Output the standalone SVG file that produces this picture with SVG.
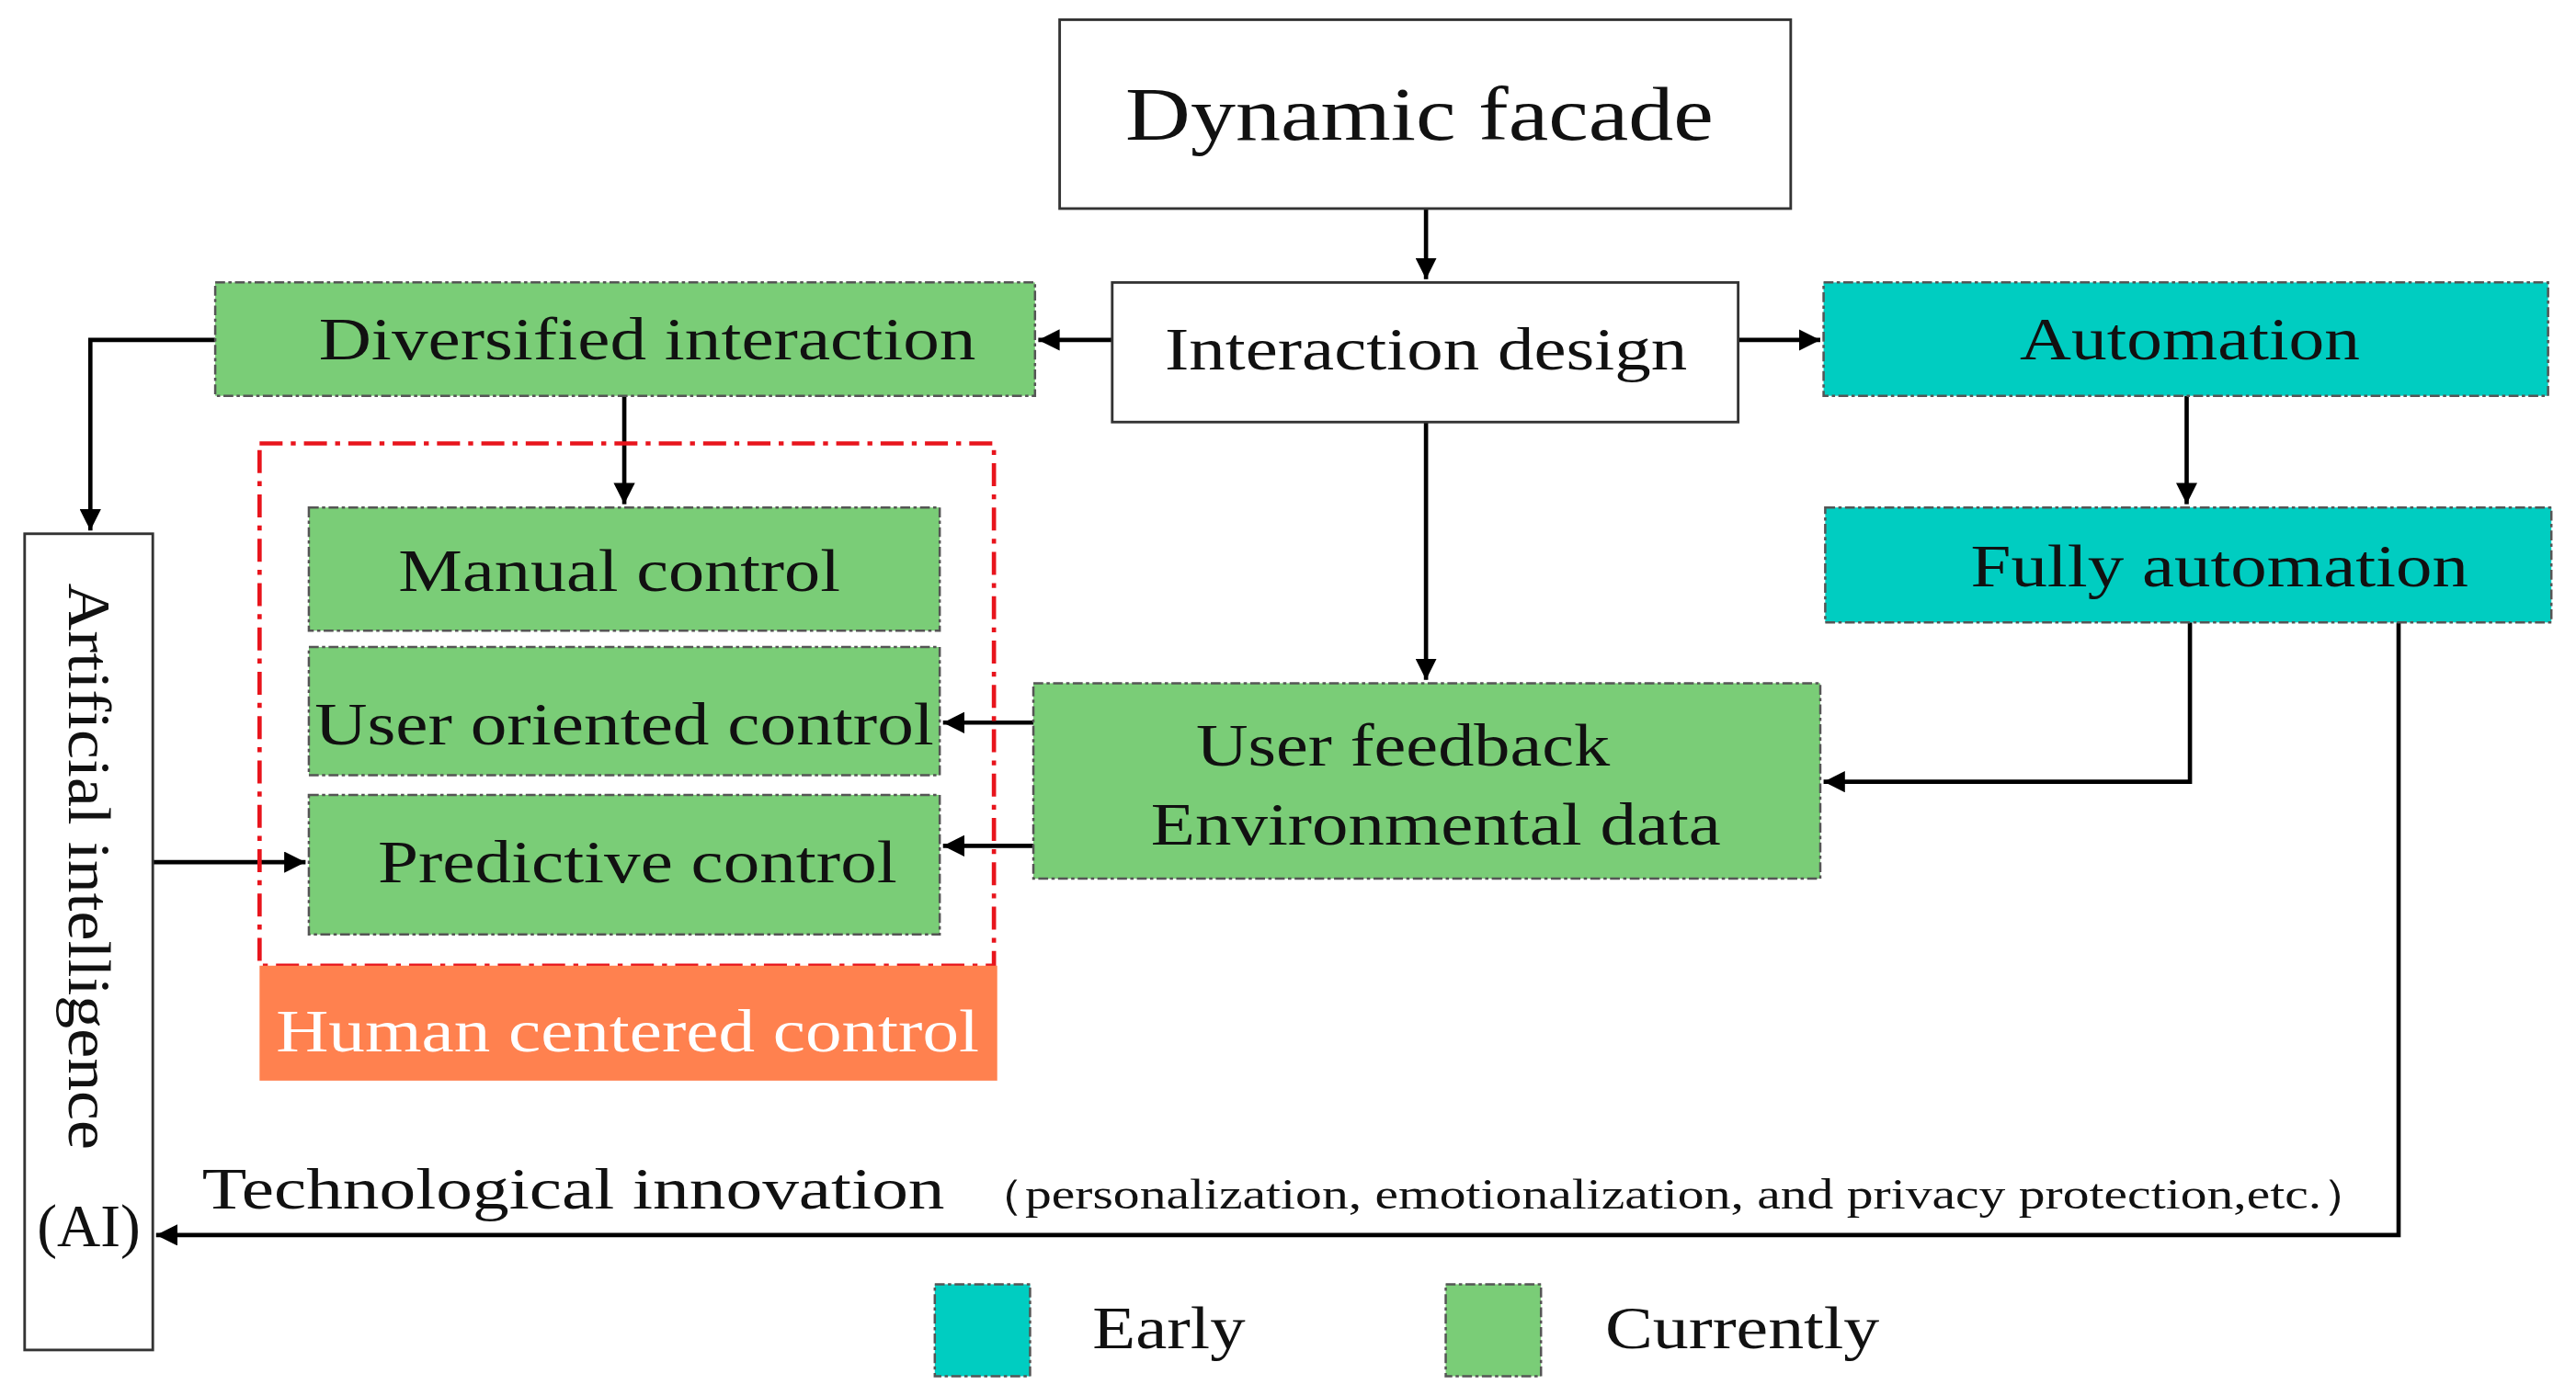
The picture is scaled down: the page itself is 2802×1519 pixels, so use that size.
<svg xmlns="http://www.w3.org/2000/svg" width="2802" height="1519" viewBox="0 0 2802 1519">
<style>
text{font-family:"Liberation Serif","Times New Roman",serif;fill:#111}
.w{fill:#fff;stroke:#333;stroke-width:1.6}
.g{fill:#7acd77;stroke:#555;stroke-width:1.4;stroke-dasharray:6 2 2 2}
.t{fill:#00cdc1;stroke:#555;stroke-width:1.4;stroke-dasharray:6 2 2 2}
.c{fill:none;stroke:#000;stroke-width:2.6}
</style>
<defs><marker id="a" viewBox="0 0 10 10" refX="10" refY="5" markerWidth="5" markerHeight="5" orient="auto" markerUnits="strokeWidth"><path d="M0,0L10,5L0,10z" fill="#000"/></marker></defs>
<rect width="2802" height="1519" fill="#fff"/>
<g transform="scale(1.787)">
<g id="connectors">
<path class="c" d="M868,127V170" marker-end="url(#a)"/>
<path class="c" d="M677,207H632" marker-end="url(#a)"/>
<path class="c" d="M1058,207H1108" marker-end="url(#a)"/>
<path class="c" d="M868,257V414" marker-end="url(#a)"/>
<path class="c" d="M131,207H55V323" marker-end="url(#a)"/>
<path class="c" d="M380,241V307" marker-end="url(#a)"/>
<path class="c" d="M1331,241V307" marker-end="url(#a)"/>
<path class="c" d="M1333,379V476H1110" marker-end="url(#a)"/>
<path class="c" d="M1460,379V752H95" marker-end="url(#a)"/>
<path class="c" d="M629,440H574" marker-end="url(#a)"/>
<path class="c" d="M629,515H574" marker-end="url(#a)"/>
<path class="c" d="M93,525H186" marker-end="url(#a)"/>
</g>
<g id="dynamic"><rect class="w" x="645" y="12" width="445" height="115"/><text x="864" y="85" font-size="46" text-anchor="middle" textLength="358" lengthAdjust="spacingAndGlyphs">Dynamic facade</text></g>
<g id="interaction"><rect class="w" x="677" y="172" width="381" height="85"/><text x="868" y="225" font-size="37" text-anchor="middle" textLength="318" lengthAdjust="spacingAndGlyphs">Interaction design</text></g>
<g id="diversified"><rect class="g" x="131" y="172" width="499" height="69"/><text x="394" y="219" font-size="37" text-anchor="middle" textLength="400" lengthAdjust="spacingAndGlyphs">Diversified interaction</text></g>
<g id="automation"><rect class="t" x="1110" y="172" width="441" height="69"/><text x="1333" y="219" font-size="37" text-anchor="middle" textLength="207" lengthAdjust="spacingAndGlyphs">Automation</text></g>
<g id="fully"><rect class="t" x="1111" y="309" width="442" height="70"/><text x="1351" y="357" font-size="37" text-anchor="middle" textLength="303" lengthAdjust="spacingAndGlyphs">Fully automation</text></g>
<g id="human-group"><rect x="158" y="270" width="447" height="318" fill="none" stroke="#e8141c" stroke-width="2.6" stroke-dasharray="14 5 3 5"/></g>
<g id="manual"><rect class="g" x="188" y="309" width="384" height="75"/><text x="377" y="360" font-size="37" text-anchor="middle" textLength="269" lengthAdjust="spacingAndGlyphs">Manual control</text></g>
<g id="useroriented"><rect class="g" x="188" y="394" width="384" height="78"/><text x="380" y="453" font-size="37" text-anchor="middle" textLength="377" lengthAdjust="spacingAndGlyphs">User oriented control</text></g>
<g id="predictive"><rect class="g" x="188" y="484" width="384" height="85"/><text x="388" y="537" font-size="37" text-anchor="middle" textLength="316" lengthAdjust="spacingAndGlyphs">Predictive control</text></g>
<g id="feedback"><rect class="g" x="629" y="416" width="479" height="119"/><text x="854" y="466" font-size="37" text-anchor="middle" textLength="252" lengthAdjust="spacingAndGlyphs">User feedback</text><text x="874" y="514" font-size="37" text-anchor="middle" textLength="347" lengthAdjust="spacingAndGlyphs">Environmental data</text></g>
<g id="human"><rect x="158" y="588" width="449" height="70" fill="#ff814f"/><text x="382" y="640" font-size="37" text-anchor="middle" style="fill:#fff" textLength="428" lengthAdjust="spacingAndGlyphs">Human centered control</text></g>
<g id="ai"><rect class="w" x="15" y="325" width="78" height="497"/><text transform="translate(42,355) rotate(90)" font-size="37" textLength="345" lengthAdjust="spacingAndGlyphs">Artificial intelligence</text><text x="54" y="759" font-size="37" text-anchor="middle" textLength="63" lengthAdjust="spacingAndGlyphs">(AI)</text></g>
<g id="tech-label"><text x="123" y="736" font-size="35" textLength="452" lengthAdjust="spacingAndGlyphs">Technological innovation</text><text x="592" y="736" font-size="26" textLength="853" lengthAdjust="spacingAndGlyphs">（personalization, emotionalization, and privacy protection,etc.）</text></g>
<g id="legend"><rect class="t" x="569" y="782" width="58" height="56"/><text x="665" y="821" font-size="37" textLength="93" lengthAdjust="spacingAndGlyphs">Early</text><rect class="g" x="880" y="782" width="58" height="56"/><text x="977" y="821" font-size="37" textLength="167" lengthAdjust="spacingAndGlyphs">Currently</text></g>
</g>
</svg>
